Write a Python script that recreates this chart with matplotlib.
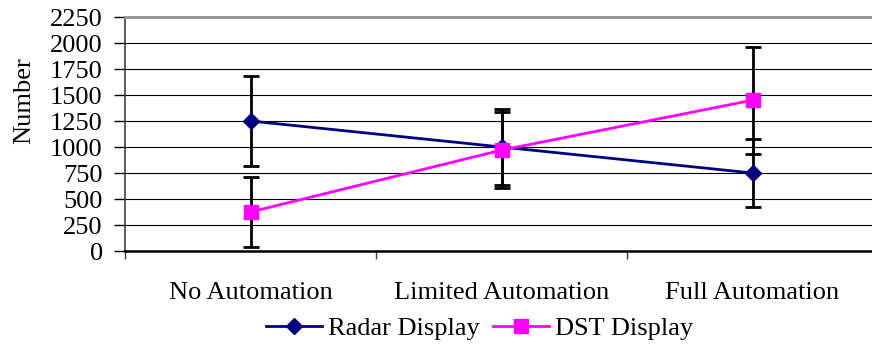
import numpy as np
import matplotlib
matplotlib.use("Agg")
import matplotlib.pyplot as plt

# values
categories = ["No Automation", "Limited Automation", "Full Automation"]
radar = [1250, 1000, 750]
radar_err = [430, 365, 330]
dst = [375, 970, 1450]
dst_err = [340, 362, 515]
yticks = [0, 250, 500, 750, 1000, 1250, 1500, 1750, 2000, 2250]

plt.rcParams["font.family"] = ["Liberation Serif", "DejaVu Serif"]
plt.rcParams["font.size"] = 19

fig = plt.figure(figsize=(8.72, 3.47), dpi=100)
ax = fig.add_axes([125 / 872, 1 - 251 / 347, 1 - 125 / 872, 234 / 347])

x = np.arange(len(categories)) + 0.5

# error bars under the markers
for vals, errs in [(radar, radar_err), (dst, dst_err)]:
    ax.errorbar(x, vals, yerr=errs, fmt="none", ecolor="black", elinewidth=2,
                capsize=6, capthick=2, zorder=2)

ax.plot(x, radar, color="#000080", lw=2, marker="D", ms=8, mec="#000080",
        label="Radar Display", zorder=3)
ax.plot(x, dst, color="#FF00FF", lw=2, marker="s", ms=10, mec="#FF00FF",
        label="DST Display", zorder=4)

ax.set_ylim(0, 2250)
ax.set_xlim(0, (872 - 125) / 251)
ax.set_yticks(yticks)
ax.yaxis.grid(True, color="black", lw=0.8)
ax.set_axisbelow(True)

# category boundaries as ticks, names centred between them
ax.set_xticks([0, 1, 2])
ax.set_xticklabels([])
ax.set_xticks(x, minor=True)
ax.set_xticklabels(categories, minor=True)
ax.tick_params(axis="x", which="major", direction="out", length=6, width=1, color="#404040")
ax.tick_params(axis="x", which="minor", length=0, pad=22)
ax.tick_params(axis="y", direction="out", length=8, width=1, pad=8)

ax.spines["right"].set_visible(False)
ax.spines["top"].set_color("#909090")
ax.spines["top"].set_linewidth(2)
ax.spines["left"].set_color("#404040")
ax.spines["left"].set_linewidth(1.2)
ax.spines["bottom"].set_color("black")
ax.spines["bottom"].set_linewidth(1.8)

fig.text(24 / 872, 1 - 101 / 347, "Number", rotation=90, ha="center", va="center")

fig.legend(loc="center", bbox_to_anchor=(480 / 872, 1 - 328 / 347), ncol=2,
           frameon=False, handlelength=2.1, handletextpad=0.25, columnspacing=0.5,
           borderpad=0, borderaxespad=0)

fig.savefig("out.png", dpi=100)
